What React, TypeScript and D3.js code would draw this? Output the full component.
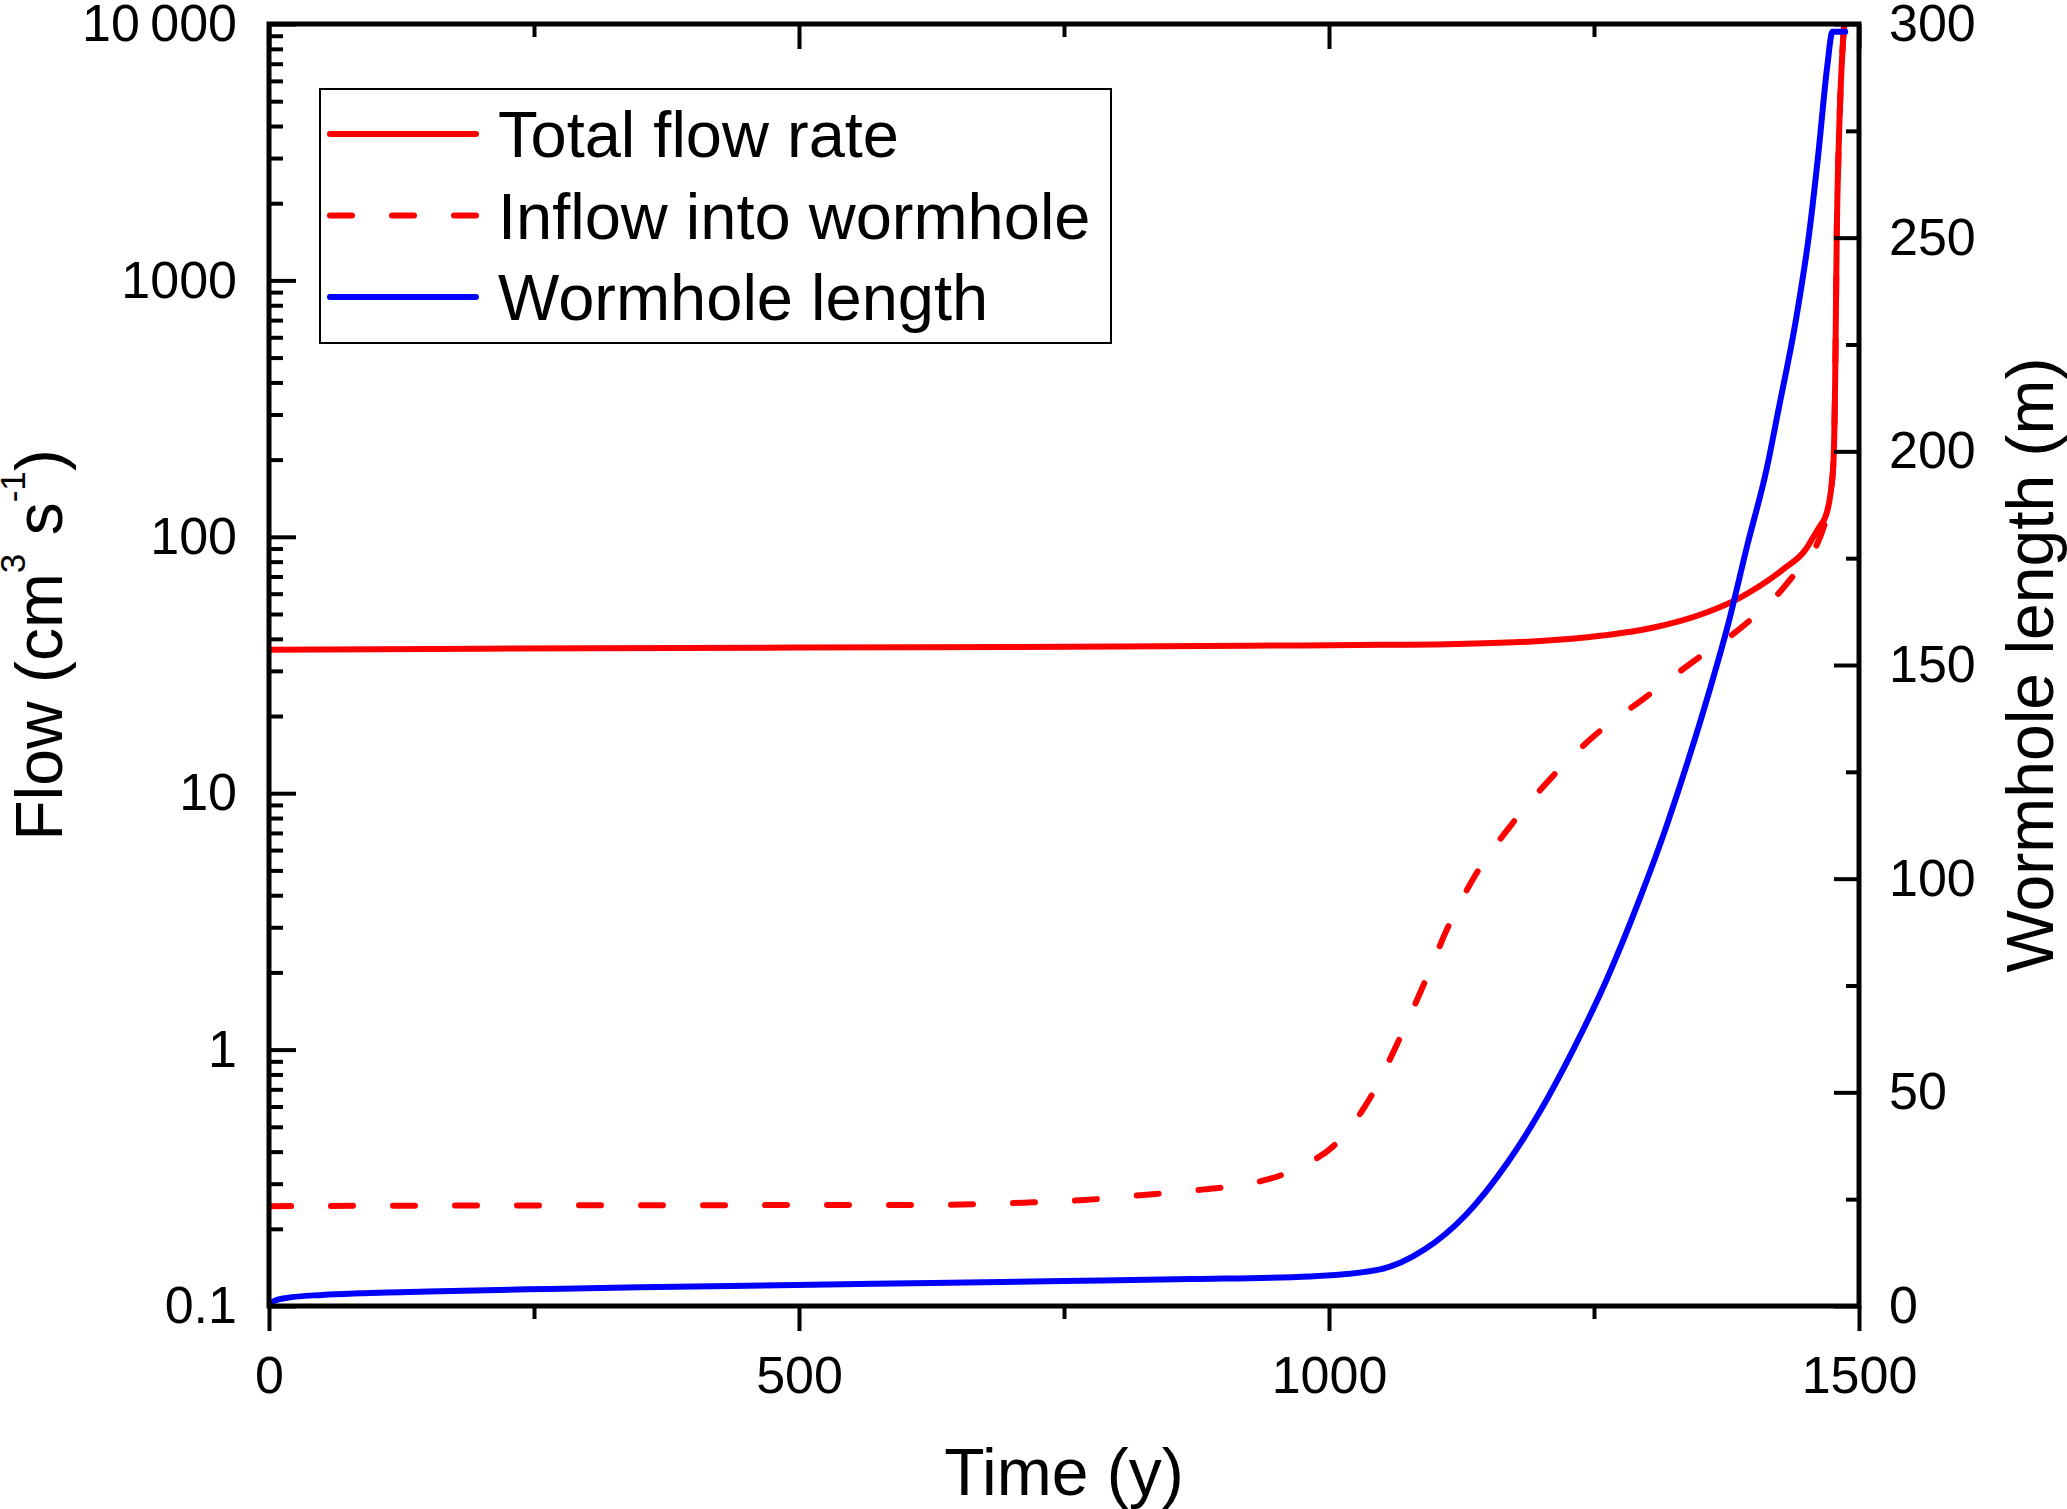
import React, { useRef, useEffect } from "react"
import * as d3 from "d3"

const WIDTH = 2067
const HEIGHT = 1509
const MARGIN = { top: 24, right: 208, bottom: 203, left: 269 }
const FONT = "'Liberation Sans', Arial, sans-serif"

// Total flow rate (cm3/s) vs time (y)
const totalTime = [0, 200, 500, 800, 925, 1050, 1121, 1199, 1258, 1303, 1356, 1387, 1429, 1450, 1457, 1463, 1469, 1473, 1476, 1477.5, 1479, 1481, 1483, 1486]
const totalFlow = [36.3, 36.6, 37.0, 37.3, 37.6, 37.9, 38.2, 39.2, 41.2, 44, 50.7, 57.7, 75, 89.6, 100, 110, 122, 146, 200, 400, 1500, 3500, 6000, 10000]

// Inflow into wormhole (cm3/s)
const inflowTime = [0, 100, 300, 625, 712, 769, 825, 882, 925, 955, 980, 1004, 1039, 1066, 1090, 1113, 1139, 1172, 1209, 1250, 1297, 1344, 1393, 1434, 1467, 1473, 1476, 1477.5, 1479, 1481, 1483, 1486]
const inflow = [0.245, 0.246, 0.247, 0.248, 0.253, 0.259, 0.271, 0.285, 0.30, 0.324, 0.36, 0.42, 0.65, 1.09, 1.82, 3.05, 4.86, 7.53, 11.4, 16.7, 23.4, 32.7, 45.7, 67.3, 110, 146, 200, 400, 1500, 3500, 6000, 10000]

// Wormhole length (m)
const lengthTime = [0, 5, 17, 50, 86, 150, 244, 350, 497, 625, 750, 870, 982, 1047, 1090, 1129, 1168, 1199, 1231, 1262, 1293, 1317, 1336, 1360, 1376, 1395, 1413, 1424, 1441, 1453, 1462, 1470, 1475, 1487]
const wormholeLength = [0, 1.2, 1.9, 2.6, 3.0, 3.4, 3.9, 4.4, 4.9, 5.4, 5.85, 6.3, 6.9, 8.5, 13.2, 21.3, 33.4, 45.5, 60.3, 76.4, 95.2, 111.3, 125.5, 144.9, 159, 178.4, 196, 209.7, 231.5, 251, 270.5, 290, 298.2, 298.2]

const xMajor = [0, 500, 1000, 1500]
const xMinor = [250, 750, 1250]
const flowMajor = [0.1, 1, 10, 100, 1000, 10000]
const flowLabels = ["0.1", "1", "10", "100", "1000", "10\u2009000"]
const flowMinorMult = [2, 3, 4, 5, 6, 7, 8, 9]
const lenMajor = [0, 50, 100, 150, 200, 250, 300]
const lenMinor = [25, 75, 125, 175, 225, 275]

const legendItems = [
  { label: "Total flow rate", color: "#ff0000", dash: null },
  { label: "Inflow into wormhole", color: "#ff0000", dash: "22,40" },
  { label: "Wormhole length", color: "#0000ff", dash: null },
]

export default function App() {
  const svgRef = useRef<SVGSVGElement>(null)

  useEffect(() => {
    const svg = svgRef.current
    if (!svg) return
    const innerW = WIDTH - MARGIN.left - MARGIN.right
    const innerH = HEIGHT - MARGIN.top - MARGIN.bottom

    d3.select(svg).selectAll("*").remove()
    const root = d3.select(svg).append("g")
      .attr("transform", `translate(${MARGIN.left},${MARGIN.top})`)

    const x = d3.scaleLinear().domain([0, 1500]).range([0, innerW])
    const yFlow = d3.scaleLog().domain([0.1, 10000]).range([innerH, 0])
    const yLen = d3.scaleLinear().domain([0, 300]).range([innerH, 0])

    const flowMinor: number[] = []
    flowMajor.slice(0, -1).forEach((d) => flowMinorMult.forEach((m) => flowMinor.push(d * m)))

    root.append("defs").append("clipPath").attr("id", "plot-clip")
      .append("rect").attr("x", 0).attr("y", 0).attr("width", innerW).attr("height", innerH)

    // Series
    const plot = root.append("g").attr("clip-path", "url(#plot-clip)")

    const flowLine = (ts: number[]) => d3.line<number>()
      .x((_, i) => x(ts[i])).y((d) => yFlow(d)).curve(d3.curveMonotoneX)

    plot.append("path").datum(inflow)
      .attr("fill", "none").attr("stroke", "#ff0000").attr("stroke-width", 6)
      .attr("stroke-dasharray", "22,40").attr("stroke-linecap", "round")
      .attr("d", flowLine(inflowTime))

    plot.append("path").datum(totalFlow)
      .attr("fill", "none").attr("stroke", "#ff0000").attr("stroke-width", 6)
      .attr("d", flowLine(totalTime))

    const lenLine = d3.line<number>()
      .x((_, i) => x(lengthTime[i])).y((d) => yLen(d)).curve(d3.curveMonotoneX)

    plot.append("path").datum(wormholeLength)
      .attr("fill", "none").attr("stroke", "#0000ff").attr("stroke-width", 6)
      .attr("stroke-linecap", "round")
      .attr("d", lenLine)

    // Axes
    const styleAxis = (g: any, size: number) => {
      g.select(".domain").remove()
      g.selectAll(".tick line").attr("stroke", "#000").attr("stroke-width", 4)
      g.selectAll("text").attr("fill", "#000").attr("font-size", size).attr("font-family", FONT)
    }

    // bottom: ticks outward
    root.append("g").attr("transform", `translate(0,${innerH})`)
      .call(d3.axisBottom(x).tickValues(xMajor).tickSize(25).tickPadding(25).tickFormat(d3.format("d")))
      .call((g) => styleAxis(g, 52))
    root.append("g").attr("transform", `translate(0,${innerH})`)
      .call(d3.axisBottom(x).tickValues(xMinor).tickSize(13).tickFormat(() => ""))
      .call((g) => styleAxis(g, 52))

    // top: ticks inward
    root.append("g")
      .call(d3.axisTop(x).tickValues(xMajor).tickSize(-25).tickFormat(() => ""))
      .call((g) => styleAxis(g, 52))
    root.append("g")
      .call(d3.axisTop(x).tickValues(xMinor).tickSize(-13).tickFormat(() => ""))
      .call((g) => styleAxis(g, 52))

    // left: log flow, ticks inward
    root.append("g")
      .call(d3.axisLeft(yFlow).tickValues(flowMajor).tickSize(-27).tickPadding(32)
        .tickFormat((d, i) => flowLabels[i]))
      .call((g) => styleAxis(g, 52))
    root.append("g")
      .call(d3.axisLeft(yFlow).tickValues(flowMinor).tickSize(-14).tickFormat(() => ""))
      .call((g) => styleAxis(g, 52))

    // right: wormhole length, ticks inward
    root.append("g").attr("transform", `translate(${innerW},0)`)
      .call(d3.axisRight(yLen).tickValues(lenMajor).tickSize(-25).tickPadding(30).tickFormat(d3.format("d")))
      .call((g) => styleAxis(g, 52))
    root.append("g").attr("transform", `translate(${innerW},0)`)
      .call(d3.axisRight(yLen).tickValues(lenMinor).tickSize(-13).tickFormat(() => ""))
      .call((g) => styleAxis(g, 52))

    // Frame
    root.append("rect").attr("x", 0).attr("y", 0).attr("width", innerW).attr("height", innerH)
      .attr("fill", "none").attr("stroke", "#000").attr("stroke-width", 5)

    // Axis titles
    d3.select(svg).append("text")
      .attr("x", MARGIN.left + innerW / 2).attr("y", 1495)
      .attr("text-anchor", "middle").attr("font-family", FONT).attr("font-size", 66)
      .attr("fill", "#000").text("Time (y)")

    const flowTitle = d3.select(svg).append("text")
      .attr("transform", "translate(62,645) rotate(-90)")
      .attr("text-anchor", "middle").attr("font-family", FONT).attr("font-size", 66)
      .attr("fill", "#000")
    flowTitle.append("tspan").text("Flow (cm")
    flowTitle.append("tspan").attr("font-size", 35).attr("dy", -37).text("3")
    flowTitle.append("tspan").attr("dy", 37).text(" s")
    flowTitle.append("tspan").attr("font-size", 35).attr("dy", -37).text("-1")
    flowTitle.append("tspan").attr("dy", 37).text(")")

    d3.select(svg).append("text")
      .attr("transform", `translate(2053,${MARGIN.top + innerH / 2}) rotate(-90)`)
      .attr("text-anchor", "middle").attr("font-family", FONT).attr("font-size", 66)
      .attr("fill", "#000").text("Wormhole length (m)")

    // Legend
    const legend = d3.select(svg).append("g")
    legend.append("rect").attr("x", 320).attr("y", 89).attr("width", 791).attr("height", 254)
      .attr("fill", "#fff").attr("stroke", "#000").attr("stroke-width", 2)
    const rowY = d3.scalePoint<string>().domain(legendItems.map((d) => d.label)).range([134, 297])
    legendItems.forEach((item) => {
      const cy = rowY(item.label) as number
      legend.append("line").attr("x1", 330).attr("x2", 476).attr("y1", cy).attr("y2", cy)
        .attr("stroke", item.color).attr("stroke-width", 6).attr("stroke-linecap", "round")
        .attr("stroke-dasharray", item.dash)
      legend.append("text").attr("x", 498).attr("y", cy + 23)
        .attr("font-family", FONT).attr("font-size", 65).attr("fill", "#000").text(item.label)
    })
  }, [])

  return (
    <svg ref={svgRef} width={WIDTH} height={HEIGHT}
      style={{ position: "absolute", left: 0, top: 0, background: "#fff", display: "block" }} />
  )
}
